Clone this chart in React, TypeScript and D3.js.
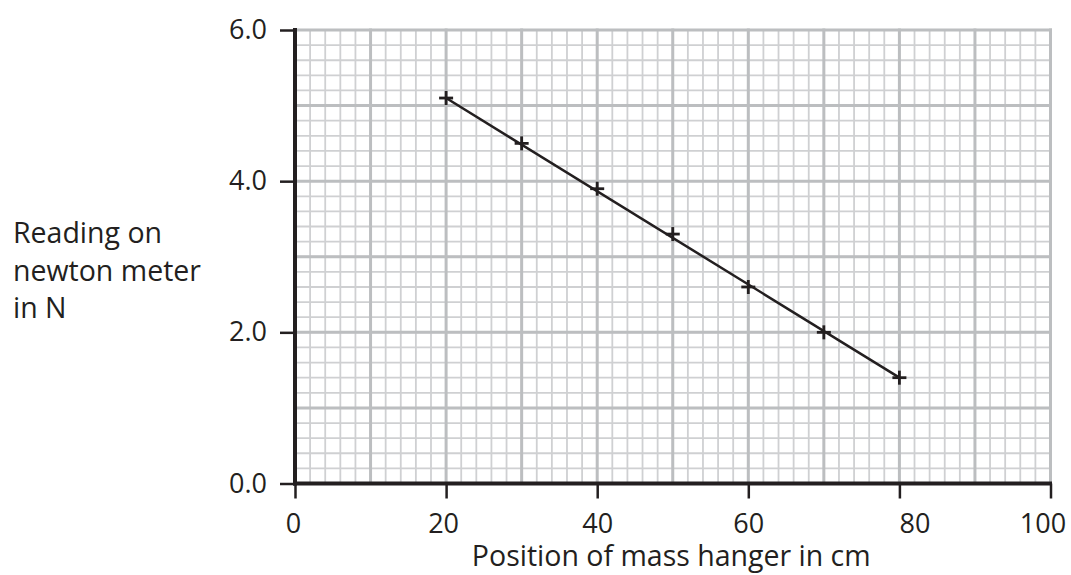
import { useEffect, useRef } from 'react'
import * as d3 from 'd3'

// measured positions (cm) and newton meter readings (N)
const positions = [20, 30, 40, 50, 60, 70, 80]
const readings = [5.1, 4.5, 3.9, 3.3, 2.6, 2.0, 1.4]

// straight line drawn through the points
const fitLine = [
  { x: 20, y: 5.1 },
  { x: 80, y: 1.4 },
]

const xTicks = [0, 20, 40, 60, 80, 100]
const yTicks = [0, 2, 4, 6]

const yLabelLines = ['Reading on', 'newton meter', 'in N']
const xLabel = 'Position of mass hanger in cm'

const WIDTH = 1071
const HEIGHT = 575
const INK = '#231f20'
const FONT = "'Open Sans', sans-serif"

// the original sheet has a couple of x labels nudged off their ticks
const xLabelNudge: Record<number, number> = { 0: -2, 20: -3, 80: 15, 100: -8 }

export default function App() {
  const svgRef = useRef<SVGSVGElement>(null)

  useEffect(() => {
    if (!svgRef.current) return
    const svg = d3.select(svgRef.current)
    svg.selectAll('*').remove()

    const x = d3.scaleLinear().domain([0, 100]).range([295, 1050.5])
    const y = d3.scaleLinear().domain([0, 6]).range([483.5, 30])

    // graph paper: minor lines every 2 cm / 0.2 N, major every 10 cm / 1 N
    const grid = svg.append('g')
    const minorX = d3.range(0, 101, 2)
    const minorY = d3.range(0, 31).map(i => i * 0.2)
    const majorX = d3.range(0, 101, 10)
    const majorY = d3.range(0, 7)

    grid.selectAll('.mx').data(minorX).enter().append('line')
      .attr('x1', d => x(d)).attr('x2', d => x(d))
      .attr('y1', y(6)).attr('y2', y(0))
      .attr('stroke', '#cfd0d2').attr('stroke-width', 1.8)
    grid.selectAll('.my').data(minorY).enter().append('line')
      .attr('x1', x(0)).attr('x2', x(100))
      .attr('y1', d => y(d)).attr('y2', d => y(d))
      .attr('stroke', '#cfd0d2').attr('stroke-width', 1.8)
    grid.selectAll('.Mx').data(majorX).enter().append('line')
      .attr('x1', d => x(d)).attr('x2', d => x(d))
      .attr('y1', y(6) - 1.5).attr('y2', y(0))
      .attr('stroke', '#bcbec0').attr('stroke-width', 3)
    grid.selectAll('.My').data(majorY).enter().append('line')
      .attr('x1', x(0)).attr('x2', x(100) + 1.5)
      .attr('y1', d => y(d)).attr('y2', d => y(d))
      .attr('stroke', '#bcbec0').attr('stroke-width', 3)

    // axes
    const xAxis = d3.axisBottom(x).tickValues(xTicks).tickSize(15).tickSizeOuter(0).tickPadding(15.3)
    const yAxis = d3.axisLeft(y).tickValues(yTicks).tickSize(15).tickSizeOuter(0).tickPadding(13)
      .tickFormat(d => d3.format('.1f')(d as number))

    const gx = svg.append('g').attr('transform', `translate(0,${y(0)})`).call(xAxis)
    const gy = svg.append('g').attr('transform', `translate(${x(0)},0)`).call(yAxis)

    for (const g of [gx, gy]) {
      g.select('.domain').remove()
      g.attr('font-size', 27).attr('font-family', FONT)
      g.selectAll('.tick line').attr('stroke', INK).attr('stroke-width', 2.5)
      g.selectAll('.tick text')
        .attr('fill', INK)
        .style('font-family', FONT)
        .style('font-size', '27px')
    }
    gx.selectAll<SVGTextElement, number>('.tick text')
      .attr('dx', d => xLabelNudge[d] ?? 0)

    svg.append('line')
      .attr('x1', x(0)).attr('x2', x(0))
      .attr('y1', y(6) - 2).attr('y2', y(0) + 2)
      .attr('stroke', INK).attr('stroke-width', 4)
    svg.append('line')
      .attr('x1', x(0) - 2).attr('x2', x(100) + 1.5)
      .attr('y1', y(0)).attr('y2', y(0))
      .attr('stroke', INK).attr('stroke-width', 4)

    // line through the points
    const line = d3.line<{ x: number; y: number }>()
      .x(d => x(d.x))
      .y(d => y(d.y))
    svg.append('path')
      .datum(fitLine)
      .attr('d', line)
      .attr('fill', 'none')
      .attr('stroke', INK)
      .attr('stroke-width', 2.5)

    // plotted crosses
    const pts = positions.map((p, i) => ({ x: p, y: readings[i] }))
    const s = 7
    const crosses = svg.append('g').selectAll('g').data(pts).enter().append('g')
      .attr('transform', d => `translate(${x(d.x)},${y(d.y)})`)
    crosses.append('line').attr('x1', -s).attr('x2', s).attr('y1', 0).attr('y2', 0)
      .attr('stroke', INK).attr('stroke-width', 2.8)
    crosses.append('line').attr('x1', 0).attr('x2', 0).attr('y1', -s).attr('y2', s)
      .attr('stroke', INK).attr('stroke-width', 2.8)

    // axis titles
    svg.append('text')
      .attr('x', (x(0) + x(100)) / 2 - 1.5)
      .attr('y', 566)
      .attr('text-anchor', 'middle')
      .attr('fill', INK)
      .style('font-family', FONT)
      .style('font-size', '28.5px')
      .text(xLabel)

    svg.append('g').selectAll('text').data(yLabelLines).enter().append('text')
      .attr('x', 13)
      .attr('y', (_, i) => 243 + i * 37.5)
      .attr('fill', INK)
      .style('font-family', FONT)
      .style('font-size', '28.5px')
      .text(d => d)
  }, [])

  return (
    <svg
      ref={svgRef}
      width={WIDTH}
      height={HEIGHT}
      style={{ position: 'absolute', left: 0, top: 0, background: '#fff' }}
    />
  )
}
